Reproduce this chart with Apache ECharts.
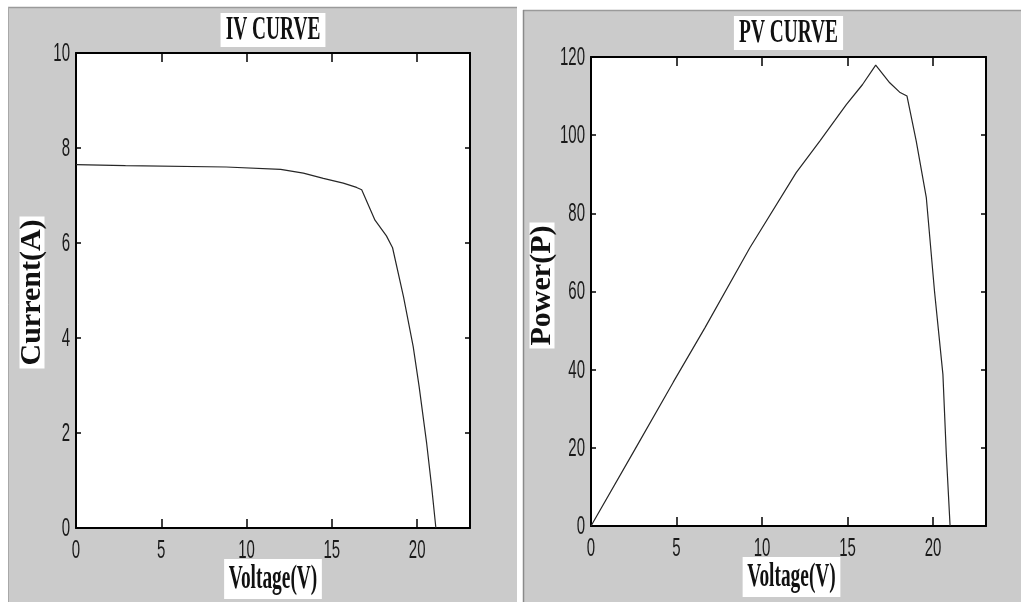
<!DOCTYPE html>
<html>
<head>
<meta charset="utf-8">
<script src="https://cdn.jsdelivr.net/npm/echarts@6/dist/echarts.min.js"></script>
<style>html,body{margin:0;padding:0;background:#fff;}#c{width:1021px;height:602px;}</style>
</head>
<body>
<div id="c"></div>
<script>
// ---- data ----
const titles = ['IV CURVE', 'PV CURVE'];
const xName = 'Voltage(V)';
const yNames = ['Current(A)', 'Power(P)'];
const xTicks = [0, 5, 10, 15, 20];
const ivTicks = [0, 2, 4, 6, 8, 10];
const pvTicks = [0, 20, 40, 60, 80, 100, 120];

const ivVoltage = [0, 2.9, 8.8, 12.0, 13.33, 14.5, 15.67, 16.45, 16.75, 17.53, 18.2, 18.56, 19.2, 19.77, 20.12, 20.56, 20.85, 21.1];
const ivCurrent = [7.65, 7.63, 7.6, 7.55, 7.47, 7.36, 7.26, 7.17, 7.12, 6.48, 6.15, 5.9, 4.87, 3.82, 2.97, 1.78, 0.87, 0];

const pvVoltage = [0, 2.57, 4.81, 6.66, 9.29, 12.0, 13.38, 14.25, 14.93, 15.87, 16.65, 17.47, 18.05, 18.48, 19.02, 19.61, 20.09, 20.58, 20.78, 21.0];
const pvPower = [0, 19.6, 36.8, 50.7, 71.2, 90.4, 98.5, 103.7, 107.8, 112.9, 117.9, 113.4, 111.0, 110.0, 98.5, 84.0, 60.0, 38.8, 18.3, 0];

const xMax = 23.1;

// ---- chart ----
const chart = echarts.init(document.getElementById('c'), null, { renderer: 'canvas' });

function xAx(grid, pos) {
  return {
    gridIndex: grid, type: 'value', position: pos, min: 0, max: xMax, interval: 5,
    axisLine: { show: true, onZero: false, lineStyle: { color: '#000', width: 2 } },
    axisTick: { show: true, inside: true, length: 9, lineStyle: { color: '#000', width: 1.5 } },
    axisLabel: { show: false }, splitLine: { show: false }
  };
}
function yAx(grid, pos, max, interval) {
  return {
    gridIndex: grid, type: 'value', position: pos, min: 0, max: max, interval: interval,
    axisLine: { show: true, onZero: false, lineStyle: { color: '#000', width: 2 } },
    axisTick: { show: true, inside: true, length: 5, lineStyle: { color: '#000', width: 1.5 } },
    axisLabel: { show: false }, splitLine: { show: false }
  };
}

const option = {
  animation: false,
  backgroundColor: '#fff',
  grid: [
    { left: 76, top: 53, width: 394, height: 475, show: true, backgroundColor: '#fff', borderWidth: 0 },
    { left: 591, top: 57, width: 395, height: 469, show: true, backgroundColor: '#fff', borderWidth: 0 }
  ],
  xAxis: [xAx(0, 'bottom'), xAx(0, 'top'), xAx(1, 'bottom'), xAx(1, 'top')],
  yAxis: [yAx(0, 'left', 10, 2), yAx(0, 'right', 10, 2), yAx(1, 'left', 120, 20), yAx(1, 'right', 120, 20)],
  series: [
    {
      type: 'line', xAxisIndex: 0, yAxisIndex: 0, showSymbol: false, silent: true,
      data: ivVoltage.map((v, i) => [v, ivCurrent[i]]),
      lineStyle: { color: '#262626', width: 1.2 }
    },
    {
      type: 'line', xAxisIndex: 2, yAxisIndex: 2, showSymbol: false, silent: true,
      data: pvVoltage.map((v, i) => [v, pvPower[i]]),
      lineStyle: { color: '#262626', width: 1.2 }
    }
  ]
};
chart.setOption(option);

// ---- panels, titles and tick labels (positions taken from the axes) ----
const g = [];
g.push({ type: 'rect', z: -10, shape: { x: 8, y: 7, width: 509, height: 600 }, style: { fill: '#cbcbcb' } });
g.push({ type: 'rect', z: -10, shape: { x: 523, y: 10, width: 498, height: 600 }, style: { fill: '#cbcbcb' } });
g.push({ type: 'line', z: -9, shape: { x1: 8, y1: 7.5, x2: 517, y2: 7.5 }, style: { stroke: '#9a9a9a', lineWidth: 1.5 } });
g.push({ type: 'line', z: -9, shape: { x1: 8.5, y1: 7, x2: 8.5, y2: 602 }, style: { stroke: '#a8a8a8', lineWidth: 1 } });
g.push({ type: 'line', z: -9, shape: { x1: 523, y1: 10.5, x2: 1021, y2: 10.5 }, style: { stroke: '#9a9a9a', lineWidth: 1.5 } });
g.push({ type: 'line', z: -9, shape: { x1: 523.5, y1: 10, x2: 523.5, y2: 602 }, style: { stroke: '#8a8a8a', lineWidth: 1.5 } });

const panels = [
  { xIdx: 0, yIdx: 0, ticks: ivTicks },
  { xIdx: 2, yIdx: 2, ticks: pvTicks }
];
const tickFont = '25px "Liberation Sans", Arial, sans-serif';
const serifBig = 'bold 34px "Liberation Serif", "Times New Roman", serif';
const serifY = 'bold 30px "Liberation Serif", "Times New Roman", serif';

panels.forEach((p, k) => {
  const x0 = chart.convertToPixel({ xAxisIndex: p.xIdx }, 0);
  const x1 = chart.convertToPixel({ xAxisIndex: p.xIdx }, xMax);
  const y0 = chart.convertToPixel({ yAxisIndex: p.yIdx }, 0);
  const y1 = chart.convertToPixel({ yAxisIndex: p.yIdx }, p.ticks[p.ticks.length - 1]);
  const cx = (x0 + x1) / 2;
  xTicks.forEach(t => {
    g.push({ type: 'text', x: chart.convertToPixel({ xAxisIndex: p.xIdx }, t), y: y0 + 23, scaleX: 0.6,
      style: { text: String(t), font: tickFont, fill: '#1a1a1a', align: 'center', verticalAlign: 'middle' } });
  });
  p.ticks.forEach(t => {
    g.push({ type: 'text', x: x0 - 6, y: chart.convertToPixel({ yAxisIndex: p.yIdx }, t) + 1, scaleX: 0.6,
      style: { text: String(t), font: tickFont, fill: '#1a1a1a', align: 'right', verticalAlign: 'middle' } });
  });
  // title
  g.push({ type: 'text', x: cx, y: y1 - 23 - k * 1, scaleX: 0.57,
    style: { text: titles[k], font: serifBig, fill: '#111', align: 'center', verticalAlign: 'middle',
      backgroundColor: '#fff', padding: [1, 9], lineHeight: 32 } });
  // x name
  g.push({ type: 'text', x: cx + k * 3, y: y0 + 51, scaleX: 0.57,
    style: { text: xName, font: serifBig, fill: '#111', align: 'center', verticalAlign: 'middle',
      backgroundColor: '#fff', padding: [2, 8], lineHeight: 36 } });
  // y name
  g.push({ type: 'text', x: x0 - 44 - k * 5, y: (y0 + y1) / 2 + 2 - k * 8, rotation: Math.PI / 2,
    style: { text: yNames[k], font: serifY, fill: '#111', align: 'center', verticalAlign: 'middle',
      backgroundColor: '#fff', padding: [0, 3], lineHeight: 25 } });
});

chart.setOption({ graphic: { elements: g } });
</script>
</body>
</html>
